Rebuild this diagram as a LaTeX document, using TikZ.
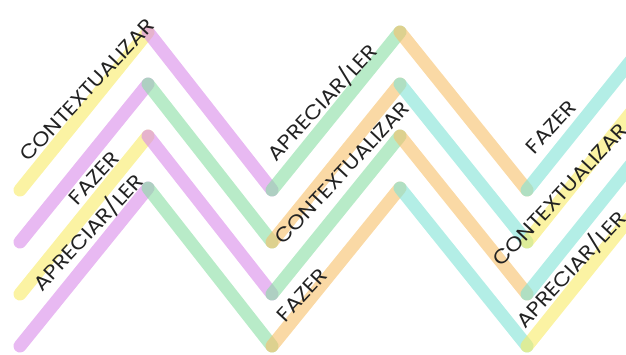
\documentclass[tikz,border=0pt]{standalone}
\usepackage{fontspec}
\setmainfont{Poppins}
\definecolor{cY}{RGB}{248,235,102}
\definecolor{cP}{RGB}{217,138,233}
\definecolor{cG}{RGB}{137,222,163}
\definecolor{cO}{RGB}{247,192,105}
\definecolor{cT}{RGB}{128,227,213}
\definecolor{txt}{RGB}{34,34,34}
\newcommand{\lbltext}[1]{\scalebox{1.12}[1]{#1}}
\begin{document}
\begin{tikzpicture}[x=1pt,y=-1pt,
  seg/.style={line width=13pt, line cap=round, draw opacity=0.6},
  lbl/.style={font=\fontsize{20}{22}\selectfont, text=txt, rotate=47, inner sep=0pt}]
\useasboundingbox (0,0) rectangle (626,354);
\clip (0,0) rectangle (626,354);
\foreach \k in {0,1,2,3}{
  \coordinate (a\k) at (20,190+52*\k);
  \coordinate (b\k) at (148,32+52*\k);
  \coordinate (c\k) at (272,190+52*\k);
  \coordinate (d\k) at (400,32+52*\k);
  \coordinate (e\k) at (527,190+52*\k);
  \coordinate (f\k) at (660,24.5+52*\k);
}
\foreach \k in {0,2}{
  \draw[seg,cY] (a\k) -- (b\k);
  \draw[seg,cP] (b\k) -- (c\k);
  \draw[seg,cG] (c\k) -- (d\k);
  \draw[seg,cO] (d\k) -- (e\k);
  \draw[seg,cT] (e\k) -- (f\k);
}
\foreach \k in {1,3}{
  \draw[seg,cP] (a\k) -- (b\k);
  \draw[seg,cG] (b\k) -- (c\k);
  \draw[seg,cO] (c\k) -- (d\k);
  \draw[seg,cT] (d\k) -- (e\k);
  \draw[seg,cY] (e\k) -- (f\k);
}
\node[lbl] (l1) at (87,90) {\lbltext{CONTEXTUALIZAR}};
\node[lbl] (l2) at (94,178) {\lbltext{FAZER}};
\node[lbl] (l3) at (88,232) {\lbltext{APRECIAR/LER}};
\node[lbl] (l4) at (322,102) {\lbltext{APRECIAR/LER}};
\node[lbl] (l5) at (342,173) {\lbltext{CONTEXTUALIZAR}};
\node[lbl] (l6) at (302,295) {\lbltext{FAZER}};
\node[lbl] (l7) at (551,127) {\lbltext{FAZER}};
\node[lbl] (l8) at (560,195) {\lbltext{CONTEXTUALIZAR}};
\node[lbl] (l9) at (571,269) {\lbltext{APRECIAR/LER}};
\end{tikzpicture}
\end{document}
